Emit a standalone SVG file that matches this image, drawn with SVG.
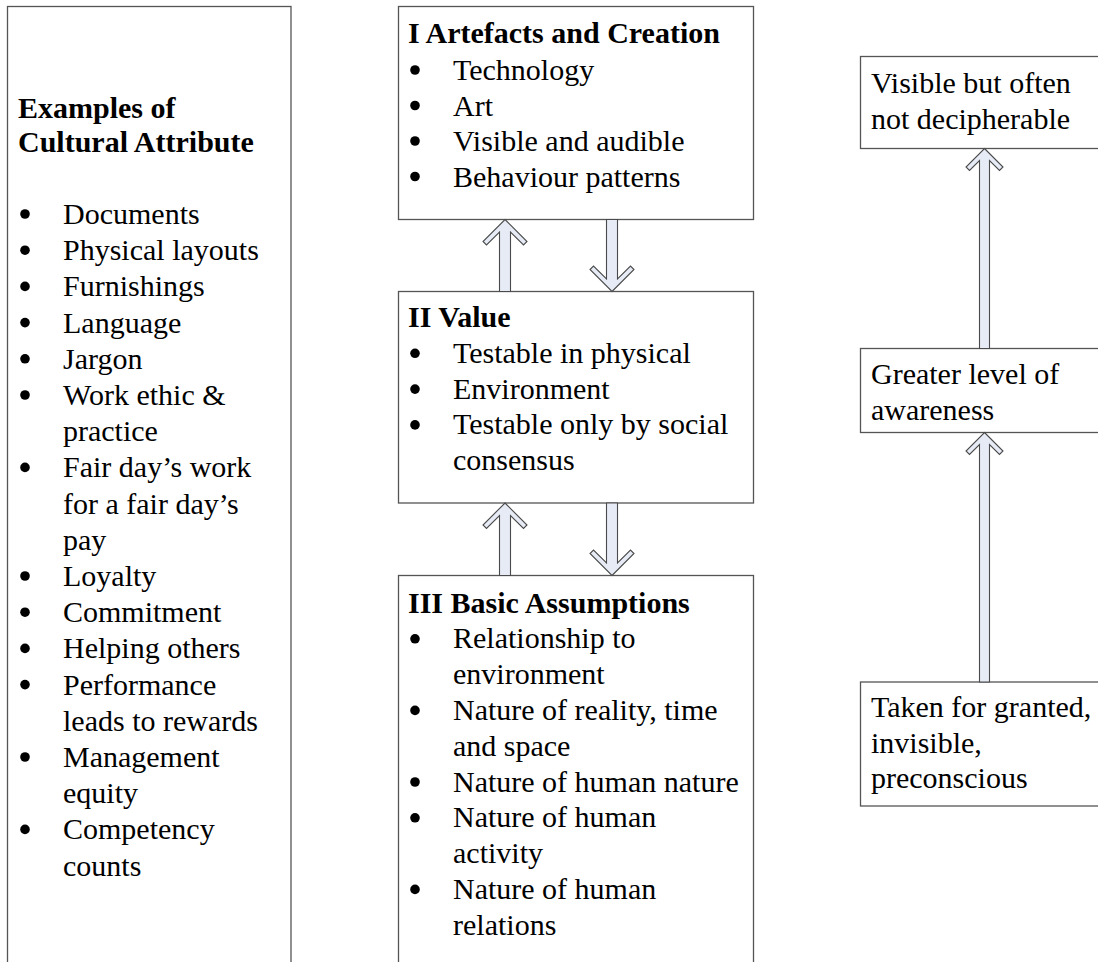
<svg xmlns="http://www.w3.org/2000/svg" width="1098" height="962" viewBox="0 0 1098 962">
  <style>
    .box { fill: #ffffff; stroke: #555555; stroke-width: 1.3; }
    .t { font-family: "Liberation Serif", "Times New Roman", serif; font-size: 30px; fill: #000000; }
    .h { font-weight: bold; }
    .dot { fill: #000000; }
    .arrow { fill: #e6ebf6; stroke: #4a4a4a; stroke-width: 1.1; stroke-linejoin: miter; }
  </style>
  <rect x="0" y="0" width="1098" height="962" fill="#ffffff"/>

  <!-- Examples column -->
  <g id="examples">
    <rect class="box" x="7.5" y="6.5" width="283.5" height="990"/>
    <text class="t h" x="18" y="117.5">Examples of</text>
    <text class="t h" x="18" y="152">Cultural Attribute</text>
    <g class="dot">
      <circle cx="25" cy="214" r="4.8"/>
      <circle cx="25" cy="250.2" r="4.8"/>
      <circle cx="25" cy="286.4" r="4.8"/>
      <circle cx="25" cy="322.6" r="4.8"/>
      <circle cx="25" cy="358.8" r="4.8"/>
      <circle cx="25" cy="395" r="4.8"/>
      <circle cx="25" cy="467.4" r="4.8"/>
      <circle cx="25" cy="576" r="4.8"/>
      <circle cx="25" cy="612.2" r="4.8"/>
      <circle cx="25" cy="648.4" r="4.8"/>
      <circle cx="25" cy="684.6" r="4.8"/>
      <circle cx="25" cy="757" r="4.8"/>
      <circle cx="25" cy="829.4" r="4.8"/>
    </g>
    <text class="t" x="63" y="224">Documents</text>
    <text class="t" x="63" y="260.2">Physical layouts</text>
    <text class="t" x="63" y="296.4">Furnishings</text>
    <text class="t" x="63" y="332.6">Language</text>
    <text class="t" x="63" y="368.8">Jargon</text>
    <text class="t" x="63" y="405">Work ethic &amp;</text>
    <text class="t" x="63" y="441.2">practice</text>
    <text class="t" x="63" y="477.4">Fair day’s work</text>
    <text class="t" x="63" y="513.6">for a fair day’s</text>
    <text class="t" x="63" y="549.8">pay</text>
    <text class="t" x="63" y="586">Loyalty</text>
    <text class="t" x="63" y="622.2">Commitment</text>
    <text class="t" x="63" y="658.4">Helping others</text>
    <text class="t" x="63" y="694.6">Performance</text>
    <text class="t" x="63" y="730.8">leads to rewards</text>
    <text class="t" x="63" y="767">Management</text>
    <text class="t" x="63" y="803.2">equity</text>
    <text class="t" x="63" y="839.4">Competency</text>
    <text class="t" x="63" y="875.6">counts</text>
  </g>

  <!-- Level I -->
  <g id="artefacts">
    <rect class="box" x="398.5" y="6.5" width="355" height="213"/>
    <text class="t h" x="408" y="43.3">I Artefacts and Creation</text>
    <g class="dot">
      <circle cx="415" cy="70" r="4.8"/>
      <circle cx="415" cy="105.5" r="4.8"/>
      <circle cx="415" cy="141" r="4.8"/>
      <circle cx="415" cy="176.5" r="4.8"/>
    </g>
    <text class="t" x="453" y="80">Technology</text>
    <text class="t" x="453" y="115.5">Art</text>
    <text class="t" x="453" y="151">Visible and audible</text>
    <text class="t" x="453" y="186.5">Behaviour patterns</text>
  </g>

  <!-- Level II -->
  <g id="value">
    <rect class="box" x="398.5" y="291.5" width="355" height="211.5"/>
    <text class="t h" x="408" y="327">II Value</text>
    <g class="dot">
      <circle cx="415" cy="353.3" r="4.8"/>
      <circle cx="415" cy="389.1" r="4.8"/>
      <circle cx="415" cy="424.9" r="4.8"/>
    </g>
    <text class="t" x="453" y="362.8">Testable in physical</text>
    <text class="t" x="453" y="398.6">Environment</text>
    <text class="t" x="453" y="434.4">Testable only by social</text>
    <text class="t" x="453" y="470.2">consensus</text>
  </g>

  <!-- Level III -->
  <g id="assumptions">
    <rect class="box" x="398.5" y="575.5" width="355" height="420"/>
    <text class="t h" x="408" y="612.5">III Basic Assumptions</text>
    <g class="dot">
      <circle cx="415" cy="638.8" r="4.8"/>
      <circle cx="415" cy="710.4" r="4.8"/>
      <circle cx="415" cy="782" r="4.8"/>
      <circle cx="415" cy="817.8" r="4.8"/>
      <circle cx="415" cy="889.4" r="4.8"/>
    </g>
    <text class="t" x="453" y="648.3">Relationship to</text>
    <text class="t" x="453" y="684.1">environment</text>
    <text class="t" x="453" y="719.9">Nature of reality, time</text>
    <text class="t" x="453" y="755.7">and space</text>
    <text class="t" x="453" y="791.5">Nature of human nature</text>
    <text class="t" x="453" y="827.3">Nature of human</text>
    <text class="t" x="453" y="863.1">activity</text>
    <text class="t" x="453" y="898.9">Nature of human</text>
    <text class="t" x="453" y="934.7">relations</text>
  </g>

  <!-- Awareness scale -->
  <g id="visible">
    <rect class="box" x="860.5" y="56.5" width="260" height="92"/>
    <text class="t" x="871" y="93.3">Visible but often</text>
    <text class="t" x="871" y="128.5">not decipherable</text>
  </g>
  <g id="awareness">
    <rect class="box" x="860.5" y="348.5" width="260" height="84"/>
    <text class="t" x="871" y="384">Greater level of</text>
    <text class="t" x="871" y="420">awareness</text>
  </g>
  <g id="granted">
    <rect class="box" x="860.5" y="682" width="260" height="124"/>
    <text class="t" x="871" y="717">Taken for granted,</text>
    <text class="t" x="871" y="752.5">invisible,</text>
    <text class="t" x="871" y="788">preconscious</text>
  </g>

  <!-- Connectors: hollow block arrows -->
  <g id="connectors">
    <path class="arrow" d="M505,219.5 L527,241.5 L523.5,245 L510.5,232 L510.5,291.5 L499.5,291.5 L499.5,232 L486.5,245 L483,241.5 Z"/>
    <path class="arrow" d="M612,291.5 L634,269.5 L630.5,266 L617.5,279 L617.5,219.5 L606.5,219.5 L606.5,279 L593.5,266 L590,269.5 Z"/>
    <path class="arrow" d="M505,503 L527,525 L523.5,528.5 L510.5,515.5 L510.5,575.5 L499.5,575.5 L499.5,515.5 L486.5,528.5 L483,525 Z"/>
    <path class="arrow" d="M612,575.5 L634,553.5 L630.5,550 L617.5,563 L617.5,503 L606.5,503 L606.5,563 L593.5,550 L590,553.5 Z"/>
    <path class="arrow" d="M984.5,148.5 L1003,167 L999.5,170.5 L989.5,160.5 L989.5,348.5 L979.5,348.5 L979.5,160.5 L969.5,170.5 L966,167 Z"/>
    <path class="arrow" d="M984.5,432.5 L1003,451 L999.5,454.5 L989.5,444.5 L989.5,682 L979.5,682 L979.5,444.5 L969.5,454.5 L966,451 Z"/>
  </g>
</svg>
